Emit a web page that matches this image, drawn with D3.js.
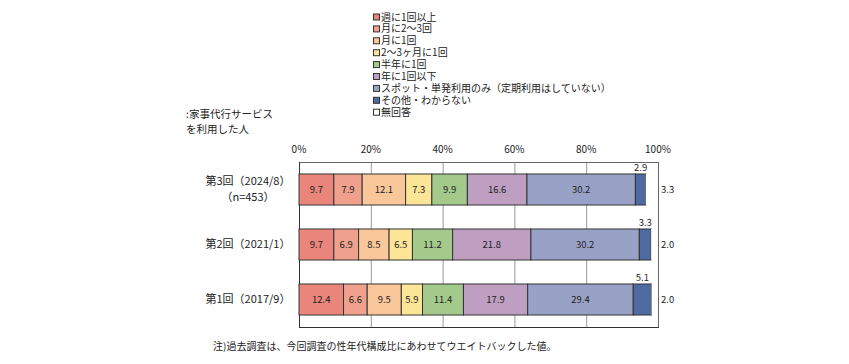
<!DOCTYPE html>
<html>
<head>
<meta charset="utf-8">
<script src="https://cdn.jsdelivr.net/npm/d3@7"></script>
<style>
  body { margin: 0; background: #fff; }
  text { font-family: "Noto Sans CJK JP", "Noto Sans", sans-serif; fill: #222; }
</style>
</head>
<body>
<script>
// data
var rounds = ["第3回（2024/8）", "第2回（2021/1）", "第1回（2017/9）"];
var roundSub = ["（n=453）", "", ""];
var answers = ["週に1回以上", "月に2～3回", "月に1回", "2～3ヶ月に1回", "半年に1回", "年に1回以下",
  "スポット・単発利用のみ（定期利用はしていない）", "その他・わからない", "無回答"];
var round3 = [9.7, 7.9, 12.1, 7.3, 9.9, 16.6, 30.2, 2.9, 3.3];
var round2 = [9.7, 6.9, 8.5, 6.5, 11.2, 21.8, 30.2, 3.3, 2.0];
var round1 = [12.4, 6.6, 9.5, 5.9, 11.4, 17.9, 29.4, 5.1, 2.0];
var ticks = [0, 20, 40, 60, 80, 100];
var colors = ["#E9857A", "#EFA18D", "#F9C79A", "#FDE598", "#A3C98B", "#BE9FC2", "#98A2C7", "#4E6AA1", "#FFFFFF"];

var values = [round3, round2, round1];

var svg = d3.select("body").append("svg").attr("width", 849).attr("height", 364);

var x = d3.scaleLinear().domain([0, 100]).range([299, 658]);
var y = d3.scaleBand().domain(rounds).range([162, 327]).paddingInner(0.436).paddingOuter(0.218);
var color = d3.scaleOrdinal().domain(answers).range(colors);

// legend
var legend = svg.append("g");
answers.forEach(function(a, i) {
  var ly = 17 + i * 11.9;
  legend.append("rect").attr("x", 373.5).attr("y", ly - 3).attr("width", 6).attr("height", 6)
    .attr("fill", color(a)).attr("stroke", "#333").attr("stroke-width", 1);
  legend.append("text").attr("x", 381).attr("y", ly).attr("dy", "0.35em")
    .attr("font-size", "10px").text(a);
});

// side title
svg.append("text").attr("x", 186).attr("y", 114).attr("dy", "0.35em").attr("font-size", "10.5px").text(":家事代行サービス");
svg.append("text").attr("x", 186).attr("y", 129).attr("dy", "0.35em").attr("font-size", "10.5px").text("を利用した人");

// grid
svg.selectAll("line.grid").data(ticks.slice(1, 5)).enter().append("line")
  .attr("class", "grid")
  .attr("x1", function(d) { return x(d) + 0.5; }).attr("x2", function(d) { return x(d) + 0.5; })
  .attr("y1", 162).attr("y2", 327)
  .attr("stroke", "#999").attr("stroke-width", 1);

// frame
svg.append("rect").attr("x", x(0) + 0.5).attr("y", 162.5).attr("width", x(100) - x(0)).attr("height", 165)
  .attr("fill", "none").attr("stroke", "#666");
svg.append("line").attr("x1", x(0) + 0.5).attr("x2", x(0) + 0.5).attr("y1", 162).attr("y2", 328).attr("stroke", "#333");
svg.append("line").attr("x1", x(0)).attr("x2", x(100) + 1).attr("y1", 327.5).attr("y2", 327.5).attr("stroke", "#333");

// axis labels
svg.selectAll("text.tick").data(ticks).enter().append("text")
  .attr("class", "tick")
  .attr("x", function(d) { return x(d); }).attr("y", 149).attr("dy", "0.35em")
  .attr("text-anchor", "middle").attr("font-size", "10px")
  .text(function(d) { return d + "%"; });

// bars
rounds.forEach(function(r, ri) {
  var row = values[ri];
  var cum = 0;
  var segs = row.map(function(v, i) {
    var s = { name: answers[i], v: v, x0: cum, x1: cum + v };
    cum += v;
    return s;
  });
  var g = svg.append("g");
  g.selectAll("rect").data(segs).enter().append("rect")
    .attr("x", function(d) { return x(d.x0); })
    .attr("y", y(r))
    .attr("width", function(d) { return Math.max(0, x(Math.min(d.x1, 100)) - x(d.x0)); })
    .attr("height", y.bandwidth())
    .attr("fill", function(d) { return color(d.name); })
    .attr("stroke", function(d, i) { return i == 8 ? "none" : "#333"; })
    .attr("stroke-width", 1);
  // inner labels
  g.selectAll("text.in").data(segs.slice(0, 7)).enter().append("text")
    .attr("class", "in")
    .attr("x", function(d) { return x((d.x0 + d.x1) / 2); })
    .attr("y", y(r) + y.bandwidth() / 2).attr("dy", "0.35em")
    .attr("text-anchor", "middle").attr("font-size", "9.5px")
    .text(function(d) { return d.v.toFixed(1); });
  // その他 above bar
  var s8 = segs[7];
  g.append("text")
    .attr("x", x((s8.x0 + s8.x1) / 2)).attr("y", y(r) - 3)
    .attr("text-anchor", "middle").attr("font-size", "9.5px")
    .text(s8.v.toFixed(1));
  // 無回答 right of plot
  g.append("text")
    .attr("x", 661).attr("y", y(r) + y.bandwidth() / 2).attr("dy", "0.35em")
    .attr("font-size", "9.5px")
    .text(segs[8].v.toFixed(1));
  // category label
  var cy = y(r) + y.bandwidth() / 2;
  if (roundSub[ri]) {
    svg.append("text").attr("x", 248).attr("y", cy - 8).attr("dy", "0.35em")
      .attr("text-anchor", "middle").attr("font-size", "11px").text(r);
    svg.append("text").attr("x", 248).attr("y", cy + 8).attr("dy", "0.35em")
      .attr("text-anchor", "middle").attr("font-size", "11px").text(roundSub[ri]);
  } else {
    svg.append("text").attr("x", 248).attr("y", cy).attr("dy", "0.35em")
      .attr("text-anchor", "middle").attr("font-size", "11px").text(r);
  }
});

// note
svg.append("text").attr("x", 213).attr("y", 346).attr("dy", "0.35em").attr("font-size", "10px")
  .text("注)過去調査は、今回調査の性年代構成比にあわせてウエイトバックした値。");
</script>
</body>
</html>
